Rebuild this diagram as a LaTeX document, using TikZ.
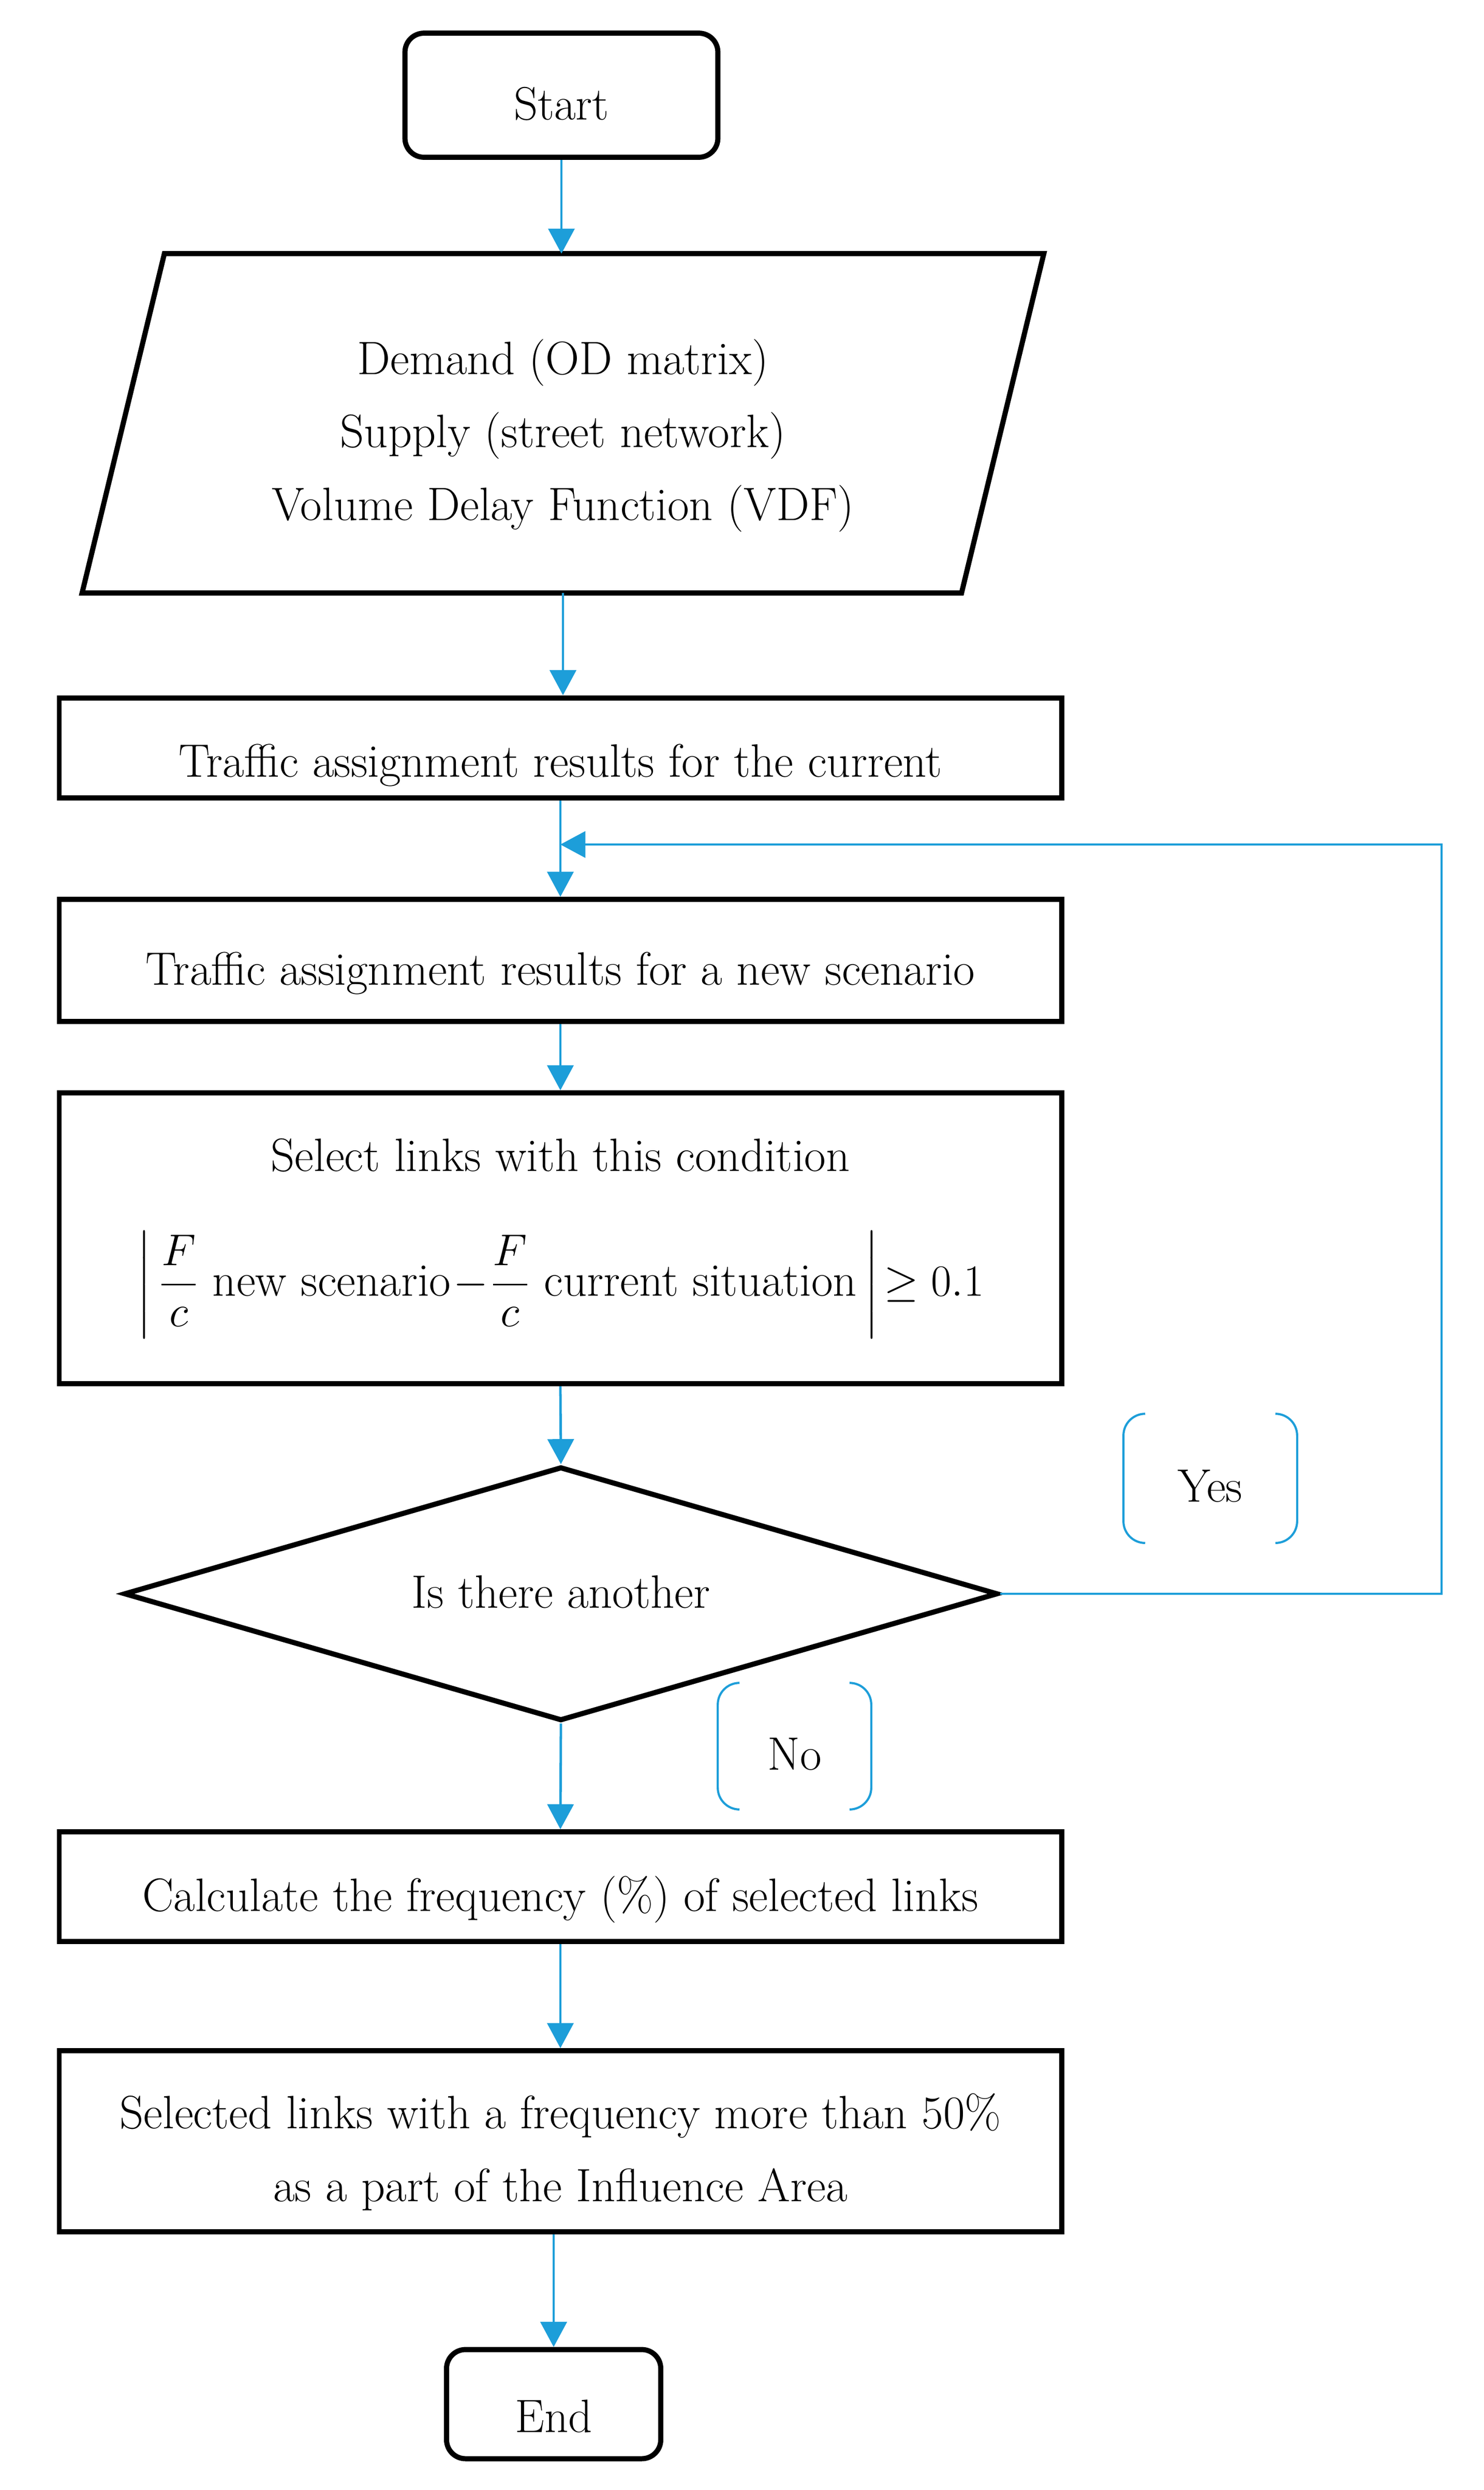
\documentclass[tikz,border=0pt]{standalone}
\usepackage{amsmath}
\usetikzlibrary{arrows.meta,shapes.geometric}

\definecolor{flowblue}{RGB}{29,158,217}
\newcommand{\flowfont}{\fontsize{21.8}{34}\selectfont}

\tikzset{
  box/.style={draw, rectangle, line width=2.4pt, minimum width=16.40cm, inner sep=0pt, font=\flowfont},
  oneline/.style={text height=23pt, text depth=0pt},
  terminal/.style={box, rounded corners=3.1mm},
  flow/.style={draw=flowblue, line width=1.15pt, -{Triangle[length=4.1mm,width=4.3mm]}},
  answer/.style={inner sep=0pt, font=\flowfont, text height=22pt, text depth=0pt},
  bracket/.style={draw=flowblue, line width=1pt, rounded corners=0.356cm},
}

\begin{document}
\begin{tikzpicture}[x=0.846667cm, y=-0.846667cm]
   \useasboundingbox (0,0) rectangle (28.67,48.12);

   \node[terminal, oneline, minimum width=5.12cm, minimum height=2.03cm] (start) at (10.85,1.84) {Start};
   \node[inner sep=0pt, minimum width=14.376cm, minimum height=5.537cm, align=center, font=\flowfont] (input) at (10.88,8.18)
      {\rule{0pt}{28pt}Demand (OD matrix)\\Supply (street network)\\Volume Delay Function (VDF)};
   \draw[line width=2.4pt] ([xshift=0.673cm]input.north west) -- ([xshift=0.673cm]input.north east)
      -- ([xshift=-0.673cm]input.south east) -- ([xshift=-0.673cm]input.south west) -- cycle;

   \node[box, oneline, text height=27pt, minimum height=1.634cm] (current) at (10.83,14.45) {Traffic assignment results for the current};
   \node[box, oneline, minimum height=1.998cm] (scenario) at (10.83,18.56) {Traffic assignment results for a new scenario};
   \node[box, align=center, minimum height=4.758cm] (select) at (10.83,23.93)
      {Select links with this condition\\[24pt]
       $\left|\,\dfrac{F}{c}\ \text{new scenario}\!-\!\dfrac{F}{c}\ \text{current situation}\,\right|\!\geq 0.1$\rule[-9pt]{0pt}{0pt}};

   \node[diamond, draw, line width=2.4pt, aspect=3.44, inner sep=0pt, minimum width=14.30cm, minimum height=4.157cm,
      font=\flowfont, text height=13.4pt, text depth=0pt] (another) at (10.84,30.80) {Is there another};

   \node[box, oneline, minimum height=1.795cm] (frequency) at (10.83,36.46) {Calculate the frequency (\%) of selected links};
   \node[box, align=center, minimum height=2.963cm] (influence) at (10.83,41.38)
      {\rule{0pt}{26.5pt}Selected links with a frequency more than 50\%\\as a part of the Influence Area};
   \node[terminal, oneline, text height=26pt, minimum width=3.505cm, minimum height=1.786cm] (finish) at (10.70,46.46) {End};

   \node[answer, minimum width=2.828cm, minimum height=2.10cm] (yes) at (23.39,28.57) {Yes};
   \node[answer, minimum width=2.498cm, minimum height=2.057cm] (no) at (15.355,33.745) {No};

   % round brackets round the answers
   \foreach \ans in {yes,no} {
     \draw[bracket] ([xshift=0.356cm]\ans.north west) -- (\ans.north west) -- (\ans.south west) -- ([xshift=0.356cm]\ans.south west);
     \draw[bracket] ([xshift=-0.356cm]\ans.north east) -- (\ans.north east) -- (\ans.south east) -- ([xshift=-0.356cm]\ans.south east);
   }

   \coordinate (loop) at (27.86,16.32);
   \coordinate (join) at (current.south |- loop);

   \draw[flow] (start.south) -- (start.south |- input.north);
   \draw[flow] (input.south) -- (input.south |- current.north);
   \draw[flow] (current.south) -- (scenario.north);
   \draw[flow] (another.east) -| (loop) -- (join);
   \draw[flow] (scenario.south) -- (select.north);
   \draw[flow] (select.south) -- (another.north);
   \draw[flow] (another.south) -- (frequency.north);
   \draw[flow] (frequency.south) -- (influence.north);
   \draw[flow] (influence.south -| finish.north) -- (finish.north);

\end{tikzpicture}
\end{document}
